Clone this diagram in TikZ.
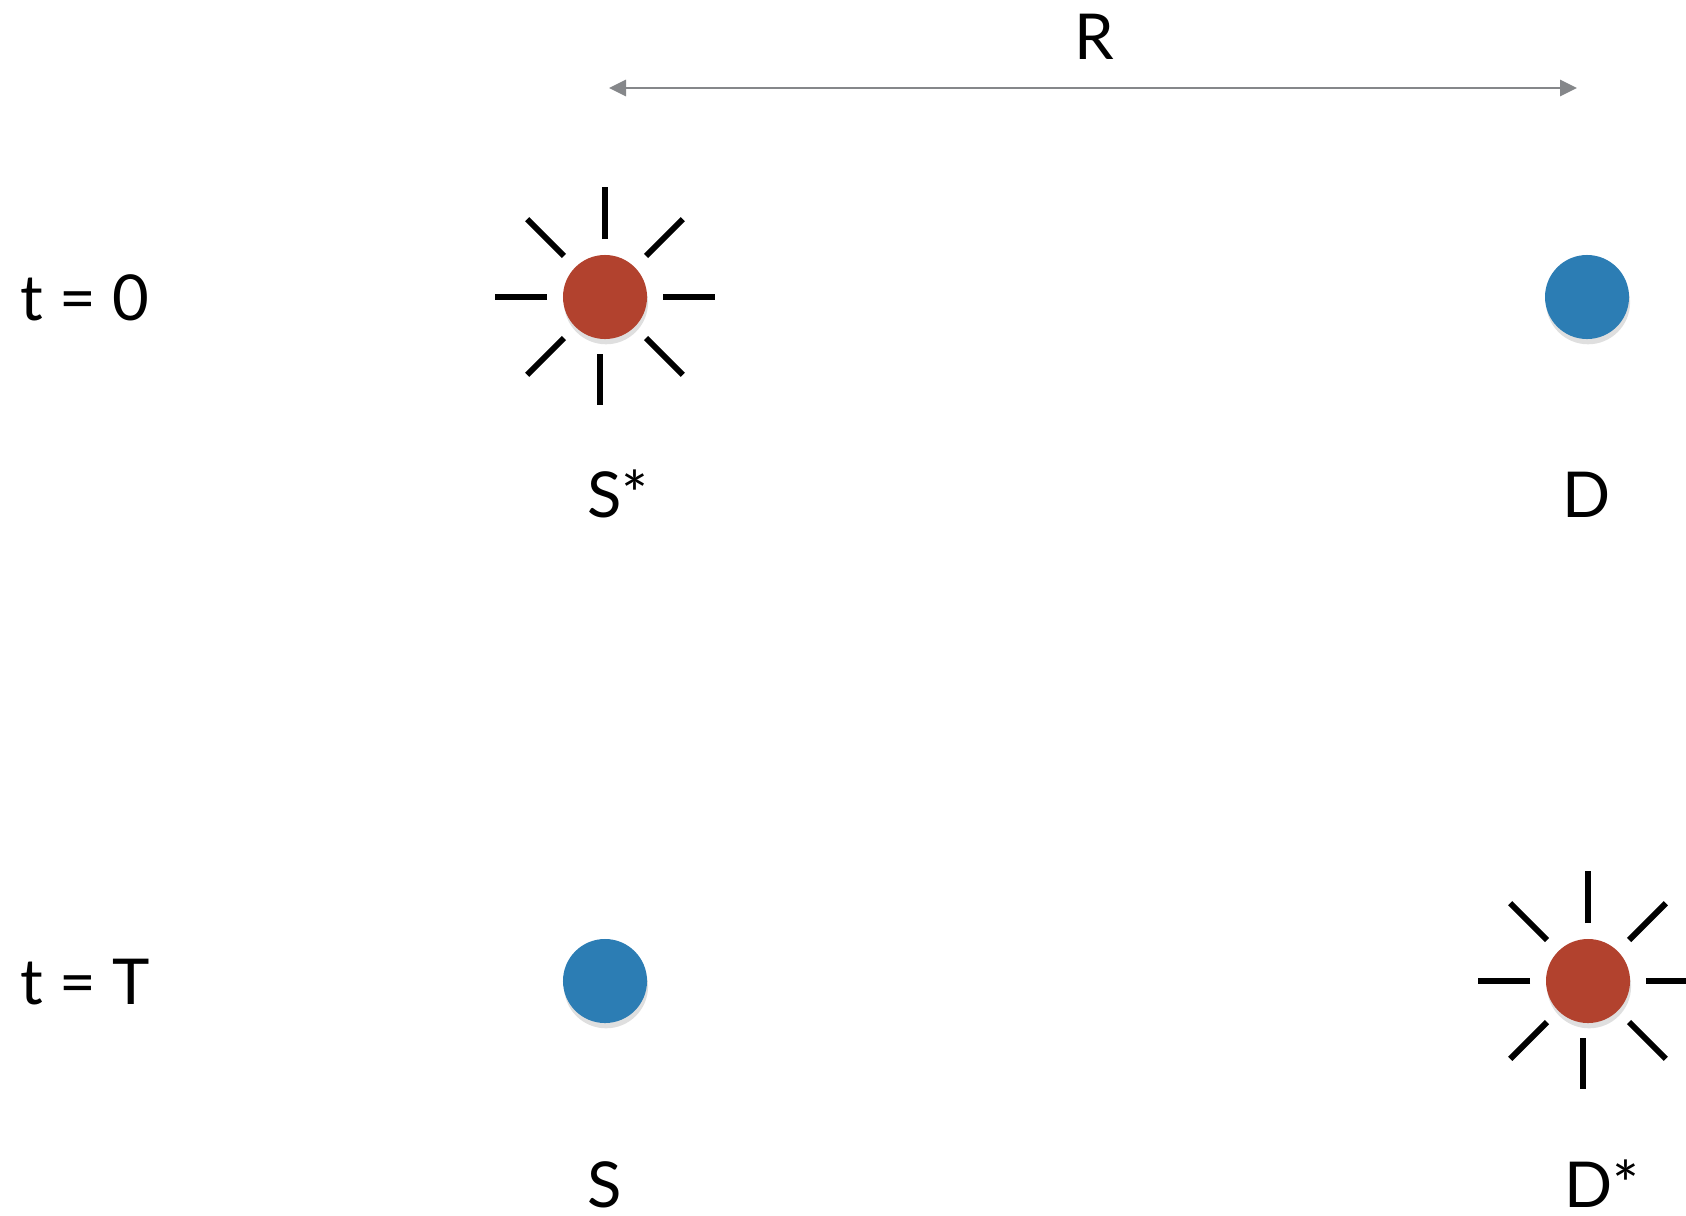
\documentclass[tikz,border=0pt]{standalone}
\usepackage{fontspec}
\setmainfont{Lato}
\usepackage{xcolor}
\usetikzlibrary{arrows.meta, shadows}

\definecolor{hotred}{RGB}{178,66,46}
\definecolor{coldblue}{RGB}{44,125,180}
\definecolor{rulegray}{RGB}{133,135,138}

\begin{document}
\begin{tikzpicture}[
    x=0.01cm, y=-0.01cm,
    every node/.style={font=\fontsize{18}{22}\selectfont},
    lbl/.style={anchor=base, inner sep=0pt},
    dot/.style={circle, inner sep=0pt, minimum size=0.84cm,
        drop shadow={shadow xshift=0.3pt, shadow yshift=-1.5pt, opacity=0.25}},
    excited/.style={dot, fill=hotred},
    ground/.style={dot, fill=coldblue},
    ray/.style={line width=1.7pt, black},
    >={Triangle[length=0.17cm, width=0.16cm]}
]

\useasboundingbox (0,0) rectangle (1686,1215);

% distance
\coordinate (rl) at (609,88);
\coordinate (rr) at (1577,88);
\draw[<->, rulegray, line width=0.8pt] (rl) -- (rr);
\node[lbl] (rlab) at (1094,59) {R};

% time rows
\node[lbl, anchor=base west] (t0) at (20,320) {t = 0};
\node[lbl, anchor=base west] (tT) at (20,1004) {t = T};

% t = 0
\node[excited] (s0) at (605,297) {};
\node[ground] (d0) at (1587,297) {};
\node[lbl] (s0lab) at (618,517) {S*};
\node[lbl] (d0lab) at (1587,517) {D};

% t = T
\node[ground] (s1) at (605,981) {};
\node[excited] (d1) at (1588,981) {};
\node[lbl] (s1lab) at (605,1207) {S};
\node[lbl] (d1lab) at (1602,1207) {D*};

% rays
\foreach \n in {s0,d1} {
    \foreach \a in {0,45,135,180,225,270,315}
        \draw[ray] ([shift={(\a:58)}]\n.center) -- ([shift={(\a:110)}]\n.center);
    \draw[ray] ([shift={(-5,57)}]\n.center) -- ([shift={(-5,108)}]\n.center);
}

\end{tikzpicture}
\end{document}
